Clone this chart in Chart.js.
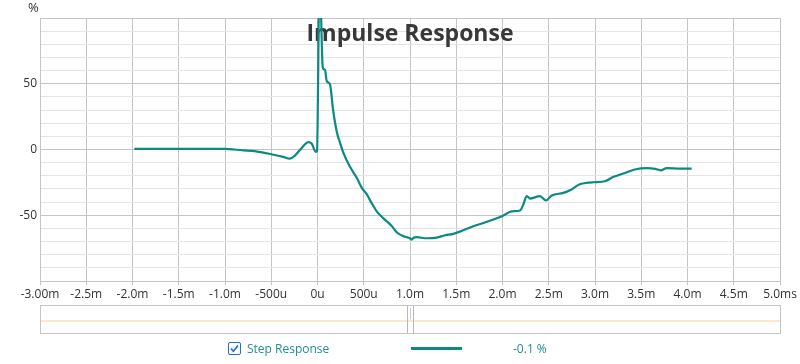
<!DOCTYPE html>
<html>
<head>
<meta charset="utf-8">
<script src="https://cdn.jsdelivr.net/npm/chart.js@4/dist/chart.umd.min.js"></script>
<style>
  html, body { margin: 0; padding: 0; background: #fff; }
  #wrap { position: relative; width: 800px; height: 364px; font-family: "Open Sans", sans-serif; }
  #chart { position: absolute; left: 0; top: 0; }
  .unit { position: absolute; left: 28px; top: -2px; font-size: 13px; color: #333; }
  .overview { position: absolute; left: 40px; top: 305px; width: 739px; height: 27px; border: 1px solid #c4c4c4; background: #fff; }
  .overview .trace { position: absolute; left: 0; right: 0; top: 14px; height: 2px; background: #fde5d0; }
  .overview .win { position: absolute; top: 0; bottom: 0; width: 1px; background: #b8b8b8; }
  .legend { position: absolute; top: 340px; height: 18px; font-size: 12px; color: #1f8f8f; line-height: 18px; }
  .check { position: absolute; left: 228px; top: 342px; width: 11px; height: 11px; border: 1.5px solid #1f6fd4; border-radius: 2px; background: #fff; overflow: hidden; }
  .check svg { display: block; position: absolute; left: 0; top: 0; }
  .sample { position: absolute; left: 411px; top: 347px; width: 51px; height: 3px; background: #0b8a84; }
</style>
</head>
<body>
<div id="wrap">
  <canvas id="chart" width="800" height="364"></canvas>
  <div class="unit">%</div>
  <div class="overview">
    <div class="trace"></div>
    <div class="win" style="left:366px"></div>
    <div class="win" style="left:372px"></div>
    <div class="win" style="left:369px; top:2px; bottom:14px; background:#c9c3e8"></div>
  </div>
  <div class="check"><svg width="11" height="11" viewBox="0 0 11 11"><path d="M2 5.6 L4.4 8.2 L9 2.6" fill="none" stroke="#1f6fd4" stroke-width="1.6"/></svg></div>
  <div class="legend" style="left:247px">Step Response</div>
  <div class="sample"></div>
  <div class="legend" style="left:513px">-0.1 %</div>
</div>
<script>
// time in ms, value in %
const times = [-1.98, -1.5, -1.0, -0.9, -0.8, -0.68, -0.5, -0.37, -0.3, -0.244, -0.154, -0.1, -0.063, -0.02, -0.005, 0.022, 0.056, 0.065, 0.081, 0.1, 0.135, 0.168, 0.207, 0.243, 0.28, 0.35, 0.424, 0.478, 0.532, 0.58, 0.64, 0.7, 0.748, 0.8, 0.856, 0.946, 1.0, 1.018, 1.04, 1.072, 1.18, 1.29, 1.378, 1.468, 1.576, 1.684, 1.83, 2.01, 2.1, 2.19, 2.225, 2.262, 2.297, 2.405, 2.47, 2.532, 2.657, 2.73, 2.83, 2.9, 2.98, 3.108, 3.2, 3.306, 3.43, 3.56, 3.65, 3.71, 3.775, 3.92, 4.045];
const values = [0.5, 0.5, 0.4, 0, -0.6, -1.3, -3.6, -5.6, -7.0, -4.6, 2.5, 5.6, 4.6, -1.8, -1.0, 135, 63, 61, 60.5, 52, 49.5, 30.4, 13.9, 5.3, -2.5, -13, -21.5, -29, -34, -40, -47, -51.5, -54.6, -58, -62.9, -66.4, -67.5, -68.5, -67, -66.7, -67.5, -67, -65.2, -64.2, -61.4, -58.4, -55, -50.2, -47, -46.4, -41.9, -35.5, -37.3, -35.5, -38.8, -35, -33, -31, -26.6, -25.5, -24.9, -24.1, -20.8, -18.3, -15.2, -14.2, -14.7, -15.8, -14.2, -14.5, -14.5];
const xMin = -3, xMax = 5, xStep = 0.5;
const yMin = -100, yMax = 100, yStep = 10;
const yLabels = [-50, 0, 50];
const titleText = "Impulse Response";

function xLabel(v) {
  const r = Math.round(v * 10) / 10;
  if (r === xMin) return r.toFixed(2) + "m";
  if (r === xMax) return r.toFixed(1) + "ms";
  if (r === 0) return "0u";
  if (Math.abs(r) < 1) return Math.round(r * 1000) + "u";
  return r.toFixed(1) + "m";
}

const titlePlugin = {
  id: "inTitle",
  beforeDatasetsDraw(chart) {
    const { ctx, chartArea } = chart;
    ctx.save();
    ctx.font = "bold 23px 'Open Sans'";
    ctx.fillStyle = "#383838";
    ctx.textAlign = "center";
    ctx.textBaseline = "middle";
    ctx.fillText(titleText, (chartArea.left + chartArea.right) / 2, 34);
    ctx.restore();
  },
};

new Chart(document.getElementById("chart"), {
  type: "line",
  data: {
    datasets: [{
      label: "Step Response",
      data: times.map((t, i) => ({ x: t, y: values[i] })),
      borderColor: "#0b8a84",
      borderWidth: 2.2,
      pointRadius: 0,
      cubicInterpolationMode: "monotone",
      fill: false,
    }],
  },
  options: {
    responsive: false,
    animation: false,
    devicePixelRatio: 1,
    layout: { padding: { left: 0, right: 20, top: 18, bottom: 63 } },
    plugins: { legend: { display: false }, tooltip: { enabled: false }, title: { display: false } },
    scales: {
      x: {
        type: "linear", min: xMin, max: xMax,
        afterFit: (s) => { s.height = 20; },
        ticks: { stepSize: xStep, color: "#333", font: { family: "Open Sans", size: 12 }, padding: 2, maxRotation: 0, autoSkip: false, callback: (v) => xLabel(v) },
        grid: { color: "#c4c4c4", tickLength: 4 },
        border: { color: "#c4c4c4" },
      },
      y: {
        min: yMin, max: yMax,
        afterFit: (s) => { s.width = 40; },
        ticks: { stepSize: yStep, autoSkip: false, color: "#333", font: { family: "Open Sans", size: 12 }, padding: 3, callback: (v) => (yLabels.includes(Math.round(v)) ? String(Math.round(v)) : "") },
        grid: { drawTicks: false, color: (c) => (c.tick && Math.round(c.tick.value) % 50 === 0 ? "#c4c4c4" : "#e4e4e4") },
        border: { color: "#c4c4c4" },
      },
    },
  },
  plugins: [titlePlugin],
});
</script>
</body>
</html>
